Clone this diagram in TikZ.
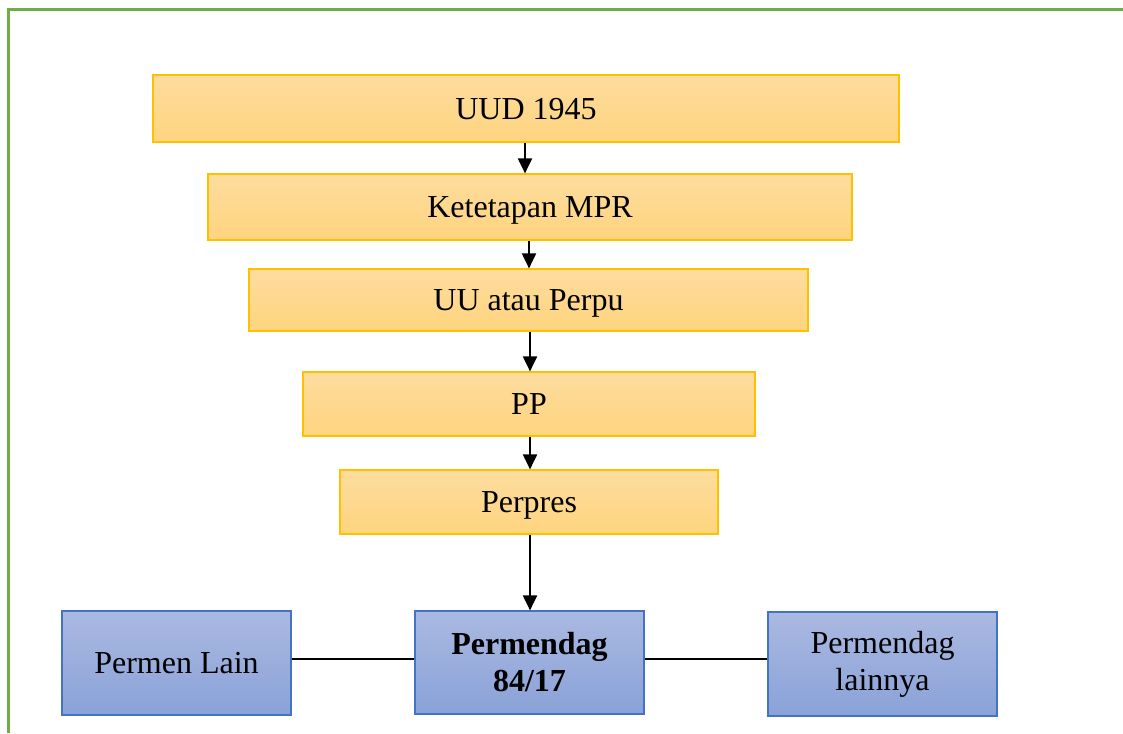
\documentclass[tikz,border=0pt]{standalone}
\usepackage{fontspec}
\setmainfont{Liberation Serif}
\usetikzlibrary{arrows.meta}
\definecolor{frameg}{HTML}{70AD47}
\definecolor{orbord}{HTML}{FFC000}
\definecolor{ortop}{HTML}{FDDC9E}
\definecolor{orbot}{HTML}{FED47E}
\definecolor{blbord}{HTML}{4472C4}
\definecolor{bltop}{HTML}{AAB9E1}
\definecolor{blbot}{HTML}{8AA2D8}
\tikzset{
  obox/.style={draw=orbord, line width=1.2pt, top color=ortop, bottom color=orbot,
    inner sep=0pt, text height=21.5pt, text depth=0pt, font=\fontsize{32}{38}\selectfont},
  bbox/.style={draw=blbord, line width=1.2pt, top color=bltop, bottom color=blbot,
    inner sep=0pt, align=center, font=\fontsize{32}{37}\selectfont},
  arr/.style={line width=2pt, -{Triangle[length=15pt,width=14pt]}},
  link/.style={line width=2pt}
}
\begin{document}
\begin{tikzpicture}[x=1pt,y=-1pt]
\useasboundingbox (0,0) rectangle (1123,733);
\fill[white] (0,0) rectangle (1123,733);
\draw[frameg, line width=3pt] (8,733) -- (8,9.5) -- (1123,9.5);
\node[obox, minimum width=746pt, minimum height=67pt] (uud) at (526,108.5) {UUD 1945};
\node[obox, minimum width=644pt, minimum height=66pt] (tap) at (530,207) {Ketetapan MPR};
\node[obox, minimum width=559pt, minimum height=62pt] (uu) at (528.5,300) {UU atau Perpu};
\node[obox, minimum width=452pt, minimum height=64pt] (pp) at (529,404) {PP};
\node[obox, minimum width=378pt, minimum height=64pt] (perpres) at (529,502) {Perpres};
\node[bbox, minimum width=229pt, minimum height=104pt] (lain) at (176.5,663) {Permen Lain};
\node[bbox, minimum width=229pt, minimum height=103pt, font=\fontsize{32}{37}\selectfont\bfseries] (pmd) at (529.5,662.5) {Permendag\\84/17};
\node[bbox, minimum width=229pt, minimum height=104pt] (pmdl) at (882.5,664) {Permendag\\lainnya};
\draw[arr] (uud.south -| 525,0) -- (tap.north -| 525,0);
\draw[arr] (tap.south -| 529,0) -- (uu.north -| 529,0);
\draw[arr] (uu.south -| 530,0) -- (pp.north -| 530,0);
\draw[arr] (pp.south -| 530,0) -- (perpres.north -| 530,0);
\draw[arr] (perpres.south -| 530,0) -- (pmd.north -| 530,0);
\draw[link] (lain.east |- 0,658.5) -- (pmd.west |- 0,658.5);
\draw[link] (pmd.east |- 0,659) -- (pmdl.west |- 0,659);
\end{tikzpicture}
\end{document}
